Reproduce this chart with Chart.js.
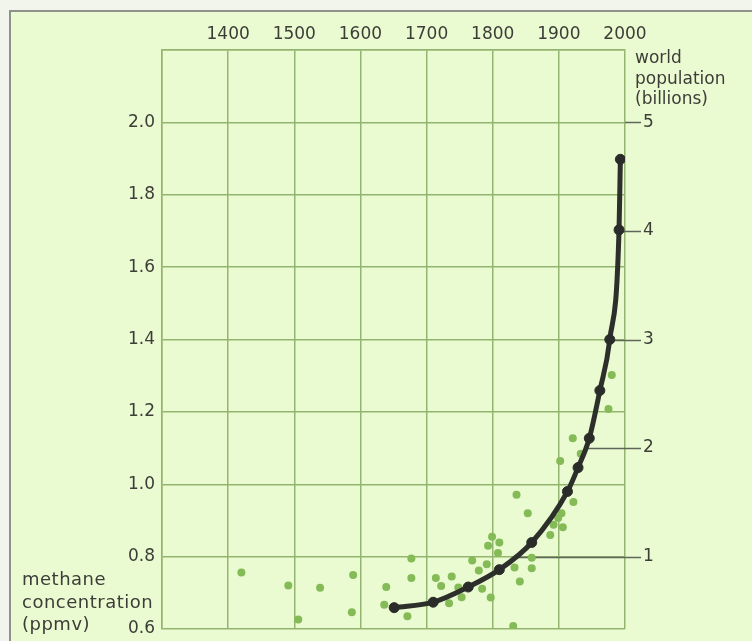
<!DOCTYPE html>
<html>
<head>
<meta charset="utf-8">
<title>Methane and world population</title>
<script src="https://cdn.jsdelivr.net/npm/chart.js@4/dist/chart.umd.min.js"></script>
<style>
  html, body { margin: 0; padding: 0; background: #f2f5ec; overflow: hidden; }
  #frame {
    position: absolute; left: 9px; top: 10px; width: 760px; height: 660px;
    background: #eafad1;
    border-left: 2px solid #8e928a; border-top: 2px solid #8e928a;
  }
  #wrap { position: absolute; left: 0; top: 0; width: 752px; height: 641px; }
</style>
</head>
<body>
<div id="frame"></div>
<div id="wrap"><canvas id="chart" width="752" height="641"></canvas></div>
<script>
// Year axis (top)
const yearTicks = [1300, 1400, 1500, 1600, 1700, 1800, 1900, 2000];

// Methane concentration samples (ppmv)
const methaneYears = [
  1420, 1491, 1506, 1539, 1589, 1587, 1639, 1636, 1677, 1677, 1671,
  1714, 1722, 1738, 1734, 1753, 1748, 1769, 1779, 1791, 1784, 1797,
  1799, 1793, 1810, 1808, 1833, 1841, 1831, 1836, 1853, 1859, 1859,
  1887, 1892, 1899, 1904, 1906, 1922, 1902, 1921, 1933, 1975, 1980
];
const methaneValues = [
  0.756, 0.720, 0.626, 0.714, 0.749, 0.646, 0.716, 0.667, 0.795, 0.741, 0.635,
  0.741, 0.719, 0.745, 0.671, 0.688, 0.715, 0.789, 0.762, 0.779, 0.711, 0.687,
  0.855, 0.830, 0.839, 0.810, 0.770, 0.731, 0.608, 0.971, 0.920, 0.797, 0.768,
  0.860, 0.888, 0.907, 0.920, 0.881, 0.951, 1.064, 1.127, 1.084, 1.208, 1.302
];

// World population (billions)
const popYears  = [1651, 1710, 1763, 1810, 1859, 1913, 1929, 1946, 1962, 1977, 1991, 1993];
const popValues = [0.53, 0.58, 0.72, 0.88, 1.13, 1.60, 1.82, 2.09, 2.53, 3.00, 4.01, 4.66];

// Axis ticks
const methaneTicks = [0.6, 0.8, 1.0, 1.2, 1.4, 1.6, 1.8, 2.0];
const popTicks = [1, 2, 3, 4, 5];

const FONT = '"DejaVu Sans", "Liberation Sans", sans-serif';
const TEXT = '#3d3d38';
const GRID = '#93b56f';
const CONNECT = '#5e6757';

const methanePoints = methaneYears.map((x, i) => ({ x, y: methaneValues[i] }));
const popPoints = popYears.map((x, i) => ({ x, y: popValues[i] }));

// Fixed scale sizes; no extra room reserved for overhanging end labels
function fixSize(prop, size) {
  return scale => {
    scale[prop] = size;
    scale.paddingTop = 0;
    scale.paddingBottom = 0;
    scale.paddingLeft = 0;
    scale.paddingRight = 0;
  };
}

// Horizontal leader lines from the population curve out to the right-hand labels
const popLeaders = {
  id: 'popLeaders',
  beforeDatasetsDraw(chart) {
    const { ctx, chartArea } = chart;
    const scale = chart.scales.pop;
    const pts = chart.getDatasetMeta(1).data;
    const end = chartArea.right + 16;
    ctx.save();
    ctx.strokeStyle = CONNECT;
    ctx.lineWidth = 1.5;
    popTicks.forEach(v => {
      const y = scale.getPixelForValue(v);
      let startX = chartArea.right;
      for (let i = 0; i < popValues.length - 1; i++) {
        const a = popValues[i], b = popValues[i + 1];
        if (v >= a && v <= b) {
          const t = (v - a) / (b - a);
          startX = Math.min(chartArea.right, pts[i].x + t * (pts[i + 1].x - pts[i].x));
          break;
        }
      }
      ctx.beginPath();
      ctx.moveTo(startX, Math.round(y) + 0.5);
      ctx.lineTo(end, Math.round(y) + 0.5);
      ctx.stroke();
    });
    ctx.restore();
  }
};

// Axis captions set horizontally beside the scales
const captions = {
  id: 'captions',
  afterDraw(chart) {
    const { ctx, chartArea } = chart;
    ctx.save();
    ctx.fillStyle = TEXT;
    ctx.textAlign = 'left';
    ctx.textBaseline = 'alphabetic';
    ctx.font = '17px ' + FONT;
    const rx = chartArea.right + 10;
    ['world', 'population', '(billions)'].forEach((s, i) => {
      ctx.fillText(s, rx, 63 + i * 20.5);
    });
    ctx.font = '18px ' + FONT;
    if ('letterSpacing' in ctx) ctx.letterSpacing = '0.5px';
    ['methane', 'concentration', '(ppmv)'].forEach((s, i) => {
      ctx.fillText(s, 22, 585 + i * 22.5);
    });
    ctx.restore();
  }
};

new Chart(document.getElementById('chart'), {
  type: 'scatter',
  data: {
    datasets: [
      {
        label: 'methane concentration (ppmv)',
        data: methanePoints,
        yAxisID: 'y',
        order: 2,
        pointRadius: 4,
        pointBackgroundColor: '#84bb57',
        pointBorderWidth: 0,
        showLine: false
      },
      {
        label: 'world population (billions)',
        data: popPoints,
        yAxisID: 'pop',
        order: 1,
        showLine: true,
        borderColor: '#2c2f2a',
        borderWidth: 5,
        cubicInterpolationMode: 'monotone',
        pointRadius: 5,
        pointBackgroundColor: '#2a2c29',
        pointBorderColor: '#2a2c29',
        pointBorderWidth: 1
      }
    ]
  },
  options: {
    responsive: false,
    animation: false,
    layout: { autoPadding: false, padding: { left: 0, right: 0, top: 0, bottom: 12 } },
    plugins: {
      legend: { display: false },
      tooltip: { enabled: false }
    },
    scales: {
      x: {
        type: 'linear',
        position: 'top',
        min: yearTicks[0],
        max: yearTicks[yearTicks.length - 1],
        afterBuildTicks(scale) { scale.ticks = yearTicks.map(v => ({ value: v })); },
        afterFit: fixSize('height', 50),
        grid: { color: GRID, lineWidth: 1.5, drawTicks: false },
        border: { color: GRID, width: 1.5 },
        ticks: {
          padding: 5,
          color: TEXT,
          font: { family: FONT, size: 17 },
          callback: v => (v === yearTicks[0] ? '' : String(v))
        }
      },
      y: {
        type: 'linear',
        position: 'left',
        min: 0.6,
        max: 2.2,
        afterBuildTicks(scale) {
          scale.ticks = methaneTicks.concat([2.2]).map(v => ({ value: v }));
        },
        afterFit: fixSize('width', 162),
        grid: { color: GRID, lineWidth: 1.5, drawTicks: false },
        border: { color: GRID, width: 1.5 },
        ticks: {
          padding: 7,
          color: TEXT,
          font: { family: FONT, size: 17 },
          callback: v => (methaneTicks.some(t => Math.abs(t - v) < 1e-6) ? v.toFixed(1) : '')
        }
      },
      pop: {
        type: 'linear',
        position: 'right',
        min: 1 / 3,
        max: 17 / 3,
        afterBuildTicks(scale) { scale.ticks = popTicks.map(v => ({ value: v })); },
        afterFit: fixSize('width', 127),
        grid: { display: false, drawOnChartArea: false, drawTicks: false },
        border: { display: false },
        ticks: {
          padding: 18,
          color: TEXT,
          font: { family: FONT, size: 17 },
          callback: v => String(v)
        }
      }
    }
  },
  plugins: [popLeaders, captions]
});
</script>
</body>
</html>
